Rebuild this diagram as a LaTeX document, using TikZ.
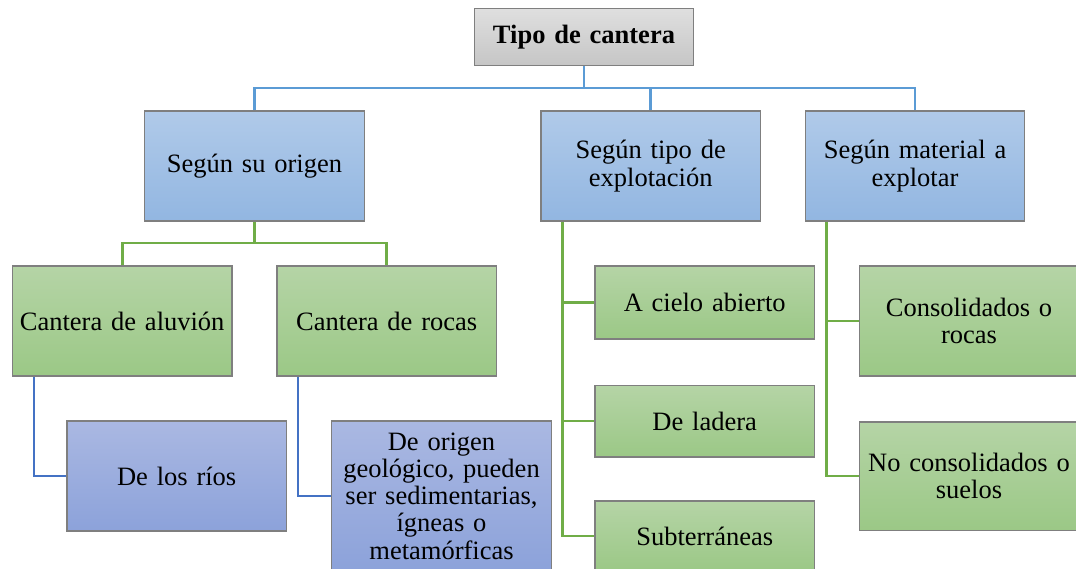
\documentclass[tikz,border=0pt]{standalone}
\usepackage{fontspec}
\setmainfont{Liberation Serif}
\definecolor{lineBlue}{HTML}{5B9BD5}
\definecolor{lineGreen}{HTML}{70AD47}
\definecolor{lineDeep}{HTML}{4472C4}
\definecolor{edgeGray}{HTML}{7F7F7F}
\tikzset{
  box/.style={draw=edgeGray, line width=1.3pt, inner sep=0pt, align=center,
    text width=212pt, minimum width=219.5pt, minimum height=110pt,
    font=\fontsize{26.5}{27.3}\selectfont},
  graybox/.style={box, top color=gray!25, bottom color=gray!45},
  bluebox/.style={box, top color={rgb,255:red,176;green,202;blue,233}, bottom color={rgb,255:red,146;green,182;blue,225}},
  greenbox/.style={box, top color={rgb,255:red,181;green,212;blue,166}, bottom color={rgb,255:red,155;green,200;blue,134}},
  violetbox/.style={box, top color={rgb,255:red,170;green,184;blue,226}, bottom color={rgb,255:red,140;green,162;blue,218}},
  cblue/.style={draw=lineBlue, line width=2.6pt},
  cgreen/.style={draw=lineGreen, line width=2.6pt},
  cdeep/.style={draw=lineDeep, line width=2.6pt},
}
\begin{document}
\begin{tikzpicture}[x=1pt, y=-1pt]
\useasboundingbox (0,0) rectangle (1076,569);
\clip (0,0) rectangle (1076,569);
% nodes
\node[graybox, minimum height=57.5pt, font=\fontsize{26.5}{27.3}\selectfont\bfseries] (top) at (584,37) {Tipo de cantera};
\node[bluebox] (origen) at (254.5,166) {Según su origen};
\node[bluebox] (tipo) at (650.7,166) {Según tipo de\\explotación};
\node[bluebox] (material) at (915,166) {Según material a\\explotar};
\node[greenbox] (aluvion) at (122.2,321) {Cantera de aluvión};
\node[greenbox] (rocas) at (386.7,321) {Cantera de rocas};
\node[violetbox] (rios) at (176.7,476) {De los ríos};
\node[violetbox, minimum height=150pt] (geol) at (441.5,496) {De origen\\geológico, pueden\\ser sedimentarias,\\ígneas o\\metamórficas};
\node[greenbox, minimum height=73pt] (cielo) at (704.7,302.5) {A cielo abierto};
\node[greenbox, minimum height=71.7pt] (ladera) at (704.7,421) {De ladera};
\node[greenbox, minimum height=70pt] (subt) at (704.7,536) {Subterráneas};
\node[greenbox, minimum height=109.7pt] (consol) at (969,321) {Consolidados o\\rocas};
\node[greenbox, minimum height=108.3pt] (nocons) at (969,476) {No consolidados o\\suelos};
% connectors
\coordinate (bus) at (584,88);
\coordinate (gbus) at (254.5,243);
\draw[cblue] (top.south) -- (bus);
\draw[cblue] (origen.north) |- (bus) -| (material.north);
\draw[cblue] (tipo.north) -- (tipo.north |- bus);
\draw[cgreen] (origen.south) -- (gbus);
\draw[cgreen] (aluvion.north) |- (gbus) -| (rocas.north);
\coordinate (tx) at ([xshift=22pt]tipo.south west);
\draw[cgreen] (tx) |- (subt.west);
\draw[cgreen] (tx |- cielo.west) -- (cielo.west);
\draw[cgreen] (tx |- ladera.west) -- (ladera.west);
\coordinate (mx) at ([xshift=22pt]material.south west);
\draw[cgreen] (mx) |- (nocons.west);
\draw[cgreen] (mx |- consol.west) -- (consol.west);
\coordinate (ax) at ([xshift=22pt]aluvion.south west);
\draw[cdeep] (ax) |- (rios.west);
\coordinate (rx) at ([xshift=21.5pt]rocas.south west);
\draw[cdeep] (rx) |- (geol.west);
\end{tikzpicture}
\end{document}
